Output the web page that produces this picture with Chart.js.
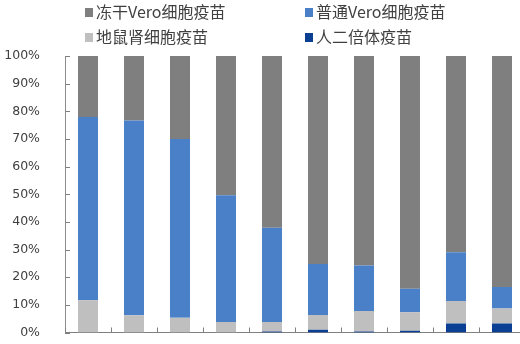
<!DOCTYPE html>
<html>
<head>
<meta charset="utf-8">
<script src="https://cdn.jsdelivr.net/npm/chart.js@4.4.0/dist/chart.umd.min.js"></script>
<style>
html,body{margin:0;padding:0;width:520px;height:344px;overflow:hidden;background:#fff;}
#wrap{position:relative;width:526px;height:344px;overflow:hidden;}
canvas{position:absolute;left:0;top:0;}
.lg{position:absolute;font-family:"Noto Sans CJK SC","Noto Sans",sans-serif;font-size:16px;color:#404040;line-height:18px;white-space:nowrap;}
.lg i{display:inline-block;width:8px;height:9px;margin-right:3px;vertical-align:1px;}
</style>
</head>
<body>
<div id="wrap"><canvas id="c" width="526" height="357" style="width:526px;height:357px"></canvas></div>
<script>
const categories = ['1','2','3','4','5','6','7','8','9','10'];
const seriesNames = ['人二倍体疫苗','地鼠肾细胞疫苗','普通Vero细胞疫苗','冻干Vero细胞疫苗'];
const humanDiploid = [0,0,0,0,0.4,1.0,0.4,0.6,3.3,3.3];
const hamsterKidney = [11.7,6.2,5.3,3.8,3.4,5.3,7.4,6.7,8.1,5.4];
const normalVero = [66.2,70.5,64.7,45.8,34.1,18.5,16.4,8.5,17.6,7.8];
const frozenVero = [22.1,23.3,30.0,50.4,62.1,75.2,75.8,84.2,71.0,83.5];
const yTicks = [0,10,20,30,40,50,60,70,80,90,100];
const colors = ['#0B3F94','#BFBFBF','#4A80C8','#7F7F7F'];

const legendPos = [
  {i:3,x:85,y:2},{i:2,x:305,y:2},
  {i:1,x:85,y:27},{i:0,x:305,y:27}
];
const wrap = document.getElementById('wrap');
legendPos.forEach(p=>{
  const d=document.createElement('div');
  d.className='lg';
  d.style.left=p.x+'px'; d.style.top=p.y+'px';
  d.innerHTML='<i style="background:'+colors[p.i]+'"></i>'+seriesNames[p.i];
  wrap.appendChild(d);
});

const inwardTicks = {
  id:'inwardTicks',
  afterDraw(chart){
    const ctx=chart.ctx, x=chart.scales.x, y=chart.scales.y;
    ctx.save();
    ctx.strokeStyle='#7F7F7F'; ctx.lineWidth=1;
    ctx.beginPath();
    yTicks.forEach(v=>{
      const py=Math.round(y.getPixelForValue(v))+0.5;
      ctx.moveTo(x.left,py); ctx.lineTo(x.left+5,py);
    });
    const w=(x.right-x.left)/categories.length;
    for(let i=0;i<=categories.length;i++){
      const px=Math.round(x.getPixelForValue(0)-w/2+i*w)+0.5;
      ctx.moveTo(px,y.bottom); ctx.lineTo(px,y.bottom-5);
    }
    ctx.stroke();
    ctx.restore();
  }
};

const data = {
  labels: categories,
  datasets: [humanDiploid,hamsterKidney,normalVero,frozenVero].map((d,i)=>({
    label: seriesNames[i], data: d, backgroundColor: colors[i], borderWidth:0,
    barPercentage:0.435, categoryPercentage:1.0
  }))
};

new Chart(document.getElementById('c'), {
  type:'bar',
  data,
  plugins:[inwardTicks],
  options:{
    responsive:false, animation:false, devicePixelRatio:1,
    layout:{padding:{top:56,bottom:10,right:1,left:0}},
    plugins:{legend:{display:false},tooltip:{enabled:false}},
    scales:{
      x:{stacked:true, ticks:{display:false}, grid:{display:false},
         border:{display:true,color:'#7F7F7F',width:1},
         afterFit(s){s.height=0;}},
      y:{stacked:true, min:0, max:100,
         afterBuildTicks(s){s.ticks=yTicks.map(v=>({value:v}));},
         ticks:{padding:17, color:'#404040', font:{family:'DejaVu Sans',size:12.5},
                callback:v=>v+'%'},
         grid:{display:false},
         border:{display:true,color:'#8C8C8C',width:1},
         afterFit(s){s.width=65;}}
    }
  }
});
</script>
</body>
</html>
